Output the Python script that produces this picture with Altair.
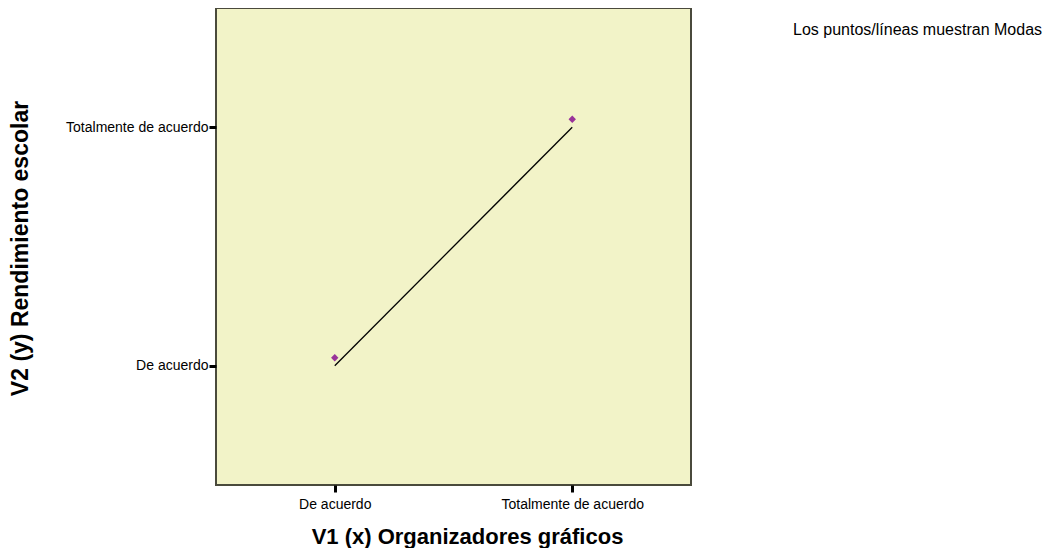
import altair as alt
import pandas as pd

x_categories = ["De acuerdo", "Totalmente de acuerdo"]
y_categories = ["Totalmente de acuerdo", "De acuerdo"]
x_values = ["De acuerdo", "Totalmente de acuerdo"]
y_values = ["De acuerdo", "Totalmente de acuerdo"]
note_text = ["Los puntos/líneas muestran Modas"]

df = pd.DataFrame({"x": x_values, "y": y_values})
note = pd.DataFrame({"t": note_text})

xs = alt.Scale(type="point", domain=x_categories, padding=0.5)
ys = alt.Scale(type="point", domain=y_categories, padding=0.5)

xax = alt.Axis(title="V1 (x) Organizadores gráficos", domain=False, grid=False,
               tickSize=7, tickWidth=3, tickColor="black", labelFontSize=14,
               labelFont="Liberation Sans", labelColor="black", labelPadding=5,
               labelAngle=0,
               titleFont="Liberation Sans", titleFontSize=22, titleFontWeight="bold",
               titleColor="black", titleX=251, titleY=63, titleBaseline="bottom",
               titleAlign="center")
yax = alt.Axis(title="V2 (y) Rendimiento escolar", domain=False, grid=False,
               tickSize=7, tickWidth=3, tickColor="black", labelFontSize=14,
               labelFont="Liberation Sans", labelColor="black", labelPadding=1,
               titleFont="Liberation Sans", titleFontSize=23, titleFontWeight="bold",
               titleColor="black", titleX=-196, titleY=240, titleBaseline="middle",
               titleAlign="center")

base = alt.Chart(df)
line = base.mark_line(color="black", strokeWidth=1.3).encode(
    x=alt.X("x:N", scale=xs, axis=xax, sort=x_categories),
    y=alt.Y("y:N", scale=ys, axis=yax, sort=y_categories),
)
pts = base.mark_point(shape="diamond", filled=True, color="#993399", size=55,
                      yOffset=-8, opacity=1).encode(
    x=alt.X("x:N", scale=xs, sort=x_categories),
    y=alt.Y("y:N", scale=ys, sort=y_categories),
)
txt = alt.Chart(note).mark_text(align="left", baseline="middle", fontSize=16,
                                font="Liberation Sans", color="black").encode(
    text="t:N", x=alt.value(577), y=alt.value(22)
)

chart = alt.layer(line, pts, txt).properties(
    width=475, height=477,
    autosize=alt.AutoSizeParams(type="none"),
    padding={"left": 208, "top": 0, "right": 353, "bottom": 63},
).configure_view(fill="#F2F3C8", stroke="#4A4A3C", strokeWidth=2)

chart.save("out.html", embed_options={"renderer": "svg", "actions": False})
